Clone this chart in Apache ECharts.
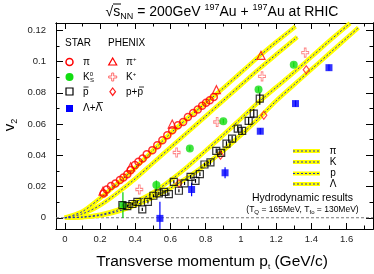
<!DOCTYPE html>
<html><head><meta charset="utf-8">
<script src="https://cdn.jsdelivr.net/npm/echarts@6/dist/echarts.min.js"></script>
<style>html,body{margin:0;padding:0;background:#fff}#c{width:374px;height:274px}</style>
</head><body><div id="c"></div>
<script>
// ---- data ----
const xTickLabels = [0,0.2,0.4,0.6,0.8,1,1.2,1.4,1.6];
const yTickLabels = [0,0.02,0.04,0.06,0.08,0.1,0.12];

const starPiPt = [0.22,0.238,0.262,0.287,0.313,0.333,0.355,0.374,0.398,0.418,0.442,0.465,0.497,0.525,0.554,0.582,0.61,0.642,0.672,0.699,0.729,0.755,0.78,0.802,0.823,0.846];
const starPiV2 = [0.0156,0.0181,0.0203,0.022,0.0241,0.0258,0.0279,0.0305,0.0337,0.0358,0.038,0.0407,0.0433,0.0465,0.0496,0.0528,0.056,0.0592,0.0613,0.0645,0.0671,0.0693,0.0717,0.0737,0.0752,0.0773];

const starK0Pt = [0.33,0.52,0.71,0.90,1.10,1.30];
const starK0V2 = [0.0081,0.0209,0.0443,0.0618,0.0822,0.098];
const starK0Err = [0.0082,0.003,0.0015,0.0015,0.0015,0.0015];

const starPbarPt = [0.327,0.355,0.384,0.412,0.44,0.472,0.503,0.534,0.563,0.591,0.619,0.648,0.68,0.714,0.742,0.767,0.793,0.827,0.86,0.888,0.918,0.95,0.982,1.007,1.044,1.073,1.107];
const starPbarV2 = [0.0081,0.0075,0.0088,0.0102,0.0054,0.0102,0.0141,0.0156,0.0166,0.0151,0.023,0.0173,0.022,0.0262,0.0236,0.0279,0.0341,0.0354,0.0428,0.0415,0.0475,0.0507,0.0571,0.0556,0.062,0.0667,0.0763];
const starPbarErr = [0.001,0.001,0.001,0.001,0.001,0.001,0.001,0.001,0.001,0.001,0.001,0.001,0.001,0.0012,0.0012,0.0012,0.0012,0.0015,0.0015,0.0015,0.0015,0.0018,0.002,0.002,0.0025,0.003,0.004];

const starLamPt = [0.54,0.72,0.91,1.11,1.31,1.50];
const starLamV2 = [-0.0004,0.0181,0.0288,0.0554,0.0731,0.0961];
const starLamErr = [0.0106,0.0043,0.0035,0.002,0.002,0.002];

const phxPiPt = [0.217,0.374,0.61,0.861,1.114];
const phxPiV2 = [0.017,0.0326,0.060,0.082,0.104];

const phxKPt = [0.423,0.635,0.865,1.12,1.365];
const phxKV2 = [0.0181,0.0418,0.0613,0.0905,0.1057];

const phxPPt = [0.648,0.884,1.13,1.371];
const phxPV2 = [0.022,0.040,0.0656,0.0948];

const hydroPiPt = [0,0.1,0.2,0.3,0.4,0.5,0.6,0.7,0.8,0.9,1.0,1.1,1.2,1.31];
const hydroPiV2 = [0,0.004,0.0125,0.022,0.032,0.043,0.054,0.064,0.0735,0.083,0.093,0.103,0.1125,0.1225];
const hydroKPt = [0,0.1,0.2,0.3,0.4,0.5,0.6,0.7,0.8,0.9,1.0,1.1,1.2,1.32];
const hydroKV2 = [0,0.0025,0.008,0.016,0.025,0.035,0.045,0.055,0.065,0.075,0.085,0.095,0.1045,0.1157];
const hydroPPt = [0,0.1,0.2,0.3,0.4,0.5,0.6,0.7,0.8,0.9,1.0,1.1,1.2,1.3,1.4,1.5,1.62];
const hydroPV2 = [0,0.0005,0.002,0.005,0.010,0.016,0.024,0.033,0.043,0.053,0.0635,0.074,0.0835,0.093,0.103,0.113,0.1245];
const hydroLPt = [0,0.1,0.2,0.3,0.4,0.5,0.6,0.7,0.8,0.9,1.0,1.1,1.2,1.3,1.4,1.5,1.6,1.667];
const hydroLV2 = [0,0.0003,0.0015,0.004,0.008,0.013,0.019,0.026,0.034,0.043,0.053,0.0635,0.0748,0.085,0.095,0.105,0.115,0.1217];

// ---- chart ----
const XMIN = -0.05, XMAX = 1.75, YMIN = -0.0072, YMAX = 0.1247;
const FONT = 'Liberation Sans, Arial, sans-serif';
const zip = (a,b) => a.map((v,i)=>[v,b[i]]);
const range = (a,b,s) => { const r=[]; for(let v=a; v<=b+1e-9; v+=s) r.push(+v.toFixed(4)); return r; };
const xMinor = range(0,1.7,0.1).filter(v=>!xTickLabels.includes(v));
const yMinor = range(-0.0,0.12,0.01).filter(v=>!yTickLabels.some(t=>Math.abs(t-v)<1e-6));

function xAx(pos, vals, len, labels){
  return {type:'value', min:XMIN, max:XMAX, position:pos,
    axisLine:{show:true,onZero:false,lineStyle:{color:'#000',width:1}},
    axisTick:{show:true,inside:true,length:len,customValues:vals,lineStyle:{color:'#000',width:1}},
    axisLabel:{show:!!labels,customValues:xTickLabels,margin:5,fontSize:9.5,color:'#222',fontFamily:FONT},
    splitLine:{show:false}};
}
function yAx(pos, vals, len, labels){
  return {type:'value', min:YMIN, max:YMAX, position:pos,
    axisLine:{show:true,onZero:false,lineStyle:{color:'#000',width:1}},
    axisTick:{show:true,inside:true,length:len,customValues:vals,lineStyle:{color:'#000',width:1}},
    axisLabel:{show:!!labels,customValues:yTickLabels,margin:10,fontSize:9.5,color:'#222',fontFamily:FONT},
    splitLine:{show:false}};
}

function hydro(pt, v2){
  return [
    {type:'line', data:zip(pt,v2), symbol:'none', smooth:0.3, lineStyle:{color:'#ffff00',width:4.5}, z:2, silent:true},
    {type:'line', data:zip(pt,v2), symbol:'none', smooth:0.3, lineStyle:{color:'#2030c0',width:1,type:[2,2]}, z:3, silent:true}
  ];
}
function errBars(pt, v2, err, color){
  return {type:'custom', z:4, clip:true, data: pt.map((x,i)=>[x, v2[i]-err[i], v2[i]+err[i]]),
    renderItem:(p,api)=>{ const a=api.coord([api.value(0),api.value(1)]), b=api.coord([api.value(0),api.value(2)]);
      return {type:'line', shape:{x1:a[0],y1:a[1],x2:b[0],y2:b[1]}, style:{stroke:color,lineWidth:1.2}}; }};
}
const crossPath = 'path://M3,0 L5,0 L5,3 L8,3 L8,5 L5,5 L5,8 L3,8 L3,5 L0,5 L0,3 L3,3 Z';

const series = [
  {type:'line', data:[[XMIN,0],[XMAX,0]], symbol:'none', lineStyle:{color:'#777',width:1,type:[3,2]}, z:1, silent:true},
  ...hydro(hydroPiPt,hydroPiV2), ...hydro(hydroKPt,hydroKV2), ...hydro(hydroPPt,hydroPV2), ...hydro(hydroLPt,hydroLV2),
  errBars(starK0Pt, starK0V2, starK0Err, '#00cc00'),
  errBars(starLamPt, starLamV2, starLamErr, '#0000ff'),
  errBars(starPbarPt, starPbarV2, starPbarErr, '#000'),
  {type:'scatter', data:zip(starPiPt,starPiV2), symbol:'circle', symbolSize:7, z:5, itemStyle:{color:'rgba(0,0,0,0)',borderColor:'#ff0000',borderWidth:1.5}},
  {type:'scatter', data:zip(phxPiPt,phxPiV2), symbol:'triangle', symbolSize:8, z:5, itemStyle:{color:'rgba(0,0,0,0)',borderColor:'#ff0000',borderWidth:1.2}},
  {type:'scatter', data:zip(phxKPt,phxKV2), symbol:crossPath, symbolSize:[7,9], z:5, itemStyle:{color:'rgba(0,0,0,0)',borderColor:'#ff6a6a',borderWidth:1}},
  {type:'scatter', data:zip(phxPPt,phxPV2), symbol:'diamond', symbolSize:[6,8], z:5, itemStyle:{color:'rgba(0,0,0,0)',borderColor:'#ff2020',borderWidth:1.2}},
  {type:'scatter', data:zip(starK0Pt,starK0V2), symbol:'circle', symbolSize:8, z:6, itemStyle:{color:'#11dd11'}},
  {type:'scatter', data:zip(starPbarPt,starPbarV2), symbol:'rect', symbolSize:7, z:6, itemStyle:{color:'rgba(0,0,0,0)',borderColor:'#000',borderWidth:1.2}},
  {type:'scatter', data:zip(starLamPt,starLamV2), symbol:'rect', symbolSize:7, z:6, itemStyle:{color:'#0000ff'}}
];

const T = (x,y,text,size,extra) => Object.assign({type:'text', x, y, style:Object.assign({text, fontSize:size, fontFamily:FONT, fill:'#000'}, extra||{})});
const legendLine = (y) => [
  {type:'line', shape:{x1:293,y1:y,x2:320,y2:y}, style:{stroke:'#ffff00',lineWidth:4}},
  {type:'line', shape:{x1:293,y1:y,x2:320,y2:y}, style:{stroke:'#2030c0',lineWidth:1,lineDash:[2,2]}}
];
const graphic = [
  // title
  {type:'text', x:222, y:12, style:{text:'{r|√}{r|s}{sb|NN}{r| = 200GeV }{sp|197}{r|Au + }{sp|197}{r|Au at RHIC}', align:'center', verticalAlign:'middle', fontFamily:FONT,
    rich:{r:{fontSize:14,lineHeight:18,fontFamily:FONT}, sb:{fontSize:9,lineHeight:9,verticalAlign:'bottom',fontFamily:FONT}, sp:{fontSize:9,lineHeight:9,verticalAlign:'top',fontFamily:FONT}}}},
  {type:'line', shape:{x1:113,y1:4,x2:121,y2:4}, style:{stroke:'#000',lineWidth:1}},
  // y name
  {type:'text', x:10, y:125, rotation:Math.PI/2, style:{text:'{r|v}{sb|2}', align:'center', verticalAlign:'middle',
    rich:{r:{fontSize:15,lineHeight:18,fontFamily:FONT}, sb:{fontSize:9,lineHeight:9,verticalAlign:'bottom',fontFamily:FONT}}}},
  // x name
  {type:'text', x:212, y:262, style:{text:'{r|Transverse momentum p}{sb|t}{r| (GeV/c)}', align:'center', verticalAlign:'middle',
    rich:{r:{fontSize:15.5,lineHeight:18,fontFamily:FONT}, sb:{fontSize:8,lineHeight:8,verticalAlign:'bottom',fontFamily:FONT}}}},
  // data legend
  T(65,43,'STAR',10,{verticalAlign:'middle'}),
  T(108,43,'PHENIX',10,{verticalAlign:'middle'}),
  {type:'circle', shape:{cx:69.5,cy:62,r:3.5}, style:{fill:'none',stroke:'#ff0000',lineWidth:1.5}},
  T(83,62.5,'π',10,{verticalAlign:'middle'}),
  {type:'circle', shape:{cx:69.5,cy:77,r:4}, style:{fill:'#11dd11'}},
  {type:'text', x:83, y:77, style:{text:'{r|K}{sp|0}', verticalAlign:'middle', rich:{r:{fontSize:10,lineHeight:12,fontFamily:FONT}, sp:{fontSize:6,lineHeight:6,verticalAlign:'top',fontFamily:FONT}}}},
  T(90,80.5,'S',6,{verticalAlign:'middle'}),
  {type:'rect', shape:{x:66,y:88,width:7,height:7}, style:{fill:'none',stroke:'#000',lineWidth:1.2}},
  T(83,92.5,'p',10,{verticalAlign:'middle'}),
  {type:'line', shape:{x1:83.5,y1:87,x2:88.5,y2:87}, style:{stroke:'#000',lineWidth:0.8}},
  {type:'rect', shape:{x:66,y:105,width:7,height:7}, style:{fill:'#0000ff'}},
  T(83,108.5,'Λ+Λ',10,{verticalAlign:'middle'}),
  {type:'line', shape:{x1:97,y1:102.5,x2:103,y2:102.5}, style:{stroke:'#000',lineWidth:0.8}},
  {type:'polygon', shape:{points:[[112.7,58],[116.7,65],[108.7,65]]}, style:{fill:'none',stroke:'#ff0000',lineWidth:1.2}},
  {type:'text', x:126, y:62.5, style:{text:'{r|π}{sp|+}', verticalAlign:'middle', rich:{r:{fontSize:10,lineHeight:12,fontFamily:FONT}, sp:{fontSize:6,lineHeight:6,verticalAlign:'top',fontFamily:FONT}}}},
  {type:'polygon', shape:{points:[[111.7,73],[113.7,73],[113.7,76],[116.7,76],[116.7,78],[113.7,78],[113.7,81],[111.7,81],[111.7,78],[108.7,78],[108.7,76],[111.7,76]]}, style:{fill:'none',stroke:'#ff6a6a',lineWidth:1}},
  {type:'text', x:126, y:77.5, style:{text:'{r|K}{sp|+}', verticalAlign:'middle', rich:{r:{fontSize:10,lineHeight:12,fontFamily:FONT}, sp:{fontSize:6,lineHeight:6,verticalAlign:'top',fontFamily:FONT}}}},
  {type:'polygon', shape:{points:[[112.7,88],[115.5,91.7],[112.7,95.4],[109.9,91.7]]}, style:{fill:'none',stroke:'#ff2020',lineWidth:1.2}},
  T(126,92.5,'p+p',10,{verticalAlign:'middle'}),
  {type:'line', shape:{x1:139,y1:87,x2:144,y2:87}, style:{stroke:'#000',lineWidth:0.8}},
  // hydro legend
  ...legendLine(151), ...legendLine(162), ...legendLine(173.5), ...legendLine(184),
  T(333,151,'π',10,{align:'center',verticalAlign:'middle'}),
  T(333,162,'K',10,{align:'center',verticalAlign:'middle'}),
  T(333,173.5,'p',10,{align:'center',verticalAlign:'middle'}),
  T(333,184,'Λ',10,{align:'center',verticalAlign:'middle'}),
  T(302.5,198,'Hydrodynamic results',10.5,{align:'center',verticalAlign:'middle'}),
  {type:'text', x:302.5, y:210, style:{text:'{r|(T}{sb|Q}{r| = 165MeV, T}{sb|fo}{r| = 130MeV)}', align:'center', verticalAlign:'middle',
    rich:{r:{fontSize:8.5,lineHeight:11,fontFamily:FONT}, sb:{fontSize:6,lineHeight:6,verticalAlign:'bottom',fontFamily:FONT}}}}
];

const chart = echarts.init(document.getElementById('c'), null, {renderer:'canvas'});
chart.setOption({
  animation:false,
  grid:{left:56,right:1,top:23,bottom:45,containLabel:false},
  xAxis:[xAx('bottom',xTickLabels,6,true), xAx('bottom',xMinor,3.5,false), xAx('top',xTickLabels,6,false), xAx('top',xMinor,3.5,false)],
  yAxis:[yAx('left',yTickLabels,7,true), yAx('left',yMinor,3.5,false), yAx('right',yTickLabels,7,false), yAx('right',yMinor,3.5,false)],
  series: series.map(s=>Object.assign({xAxisIndex:0,yAxisIndex:0},s)),
  graphic
});
</script></body></html>
